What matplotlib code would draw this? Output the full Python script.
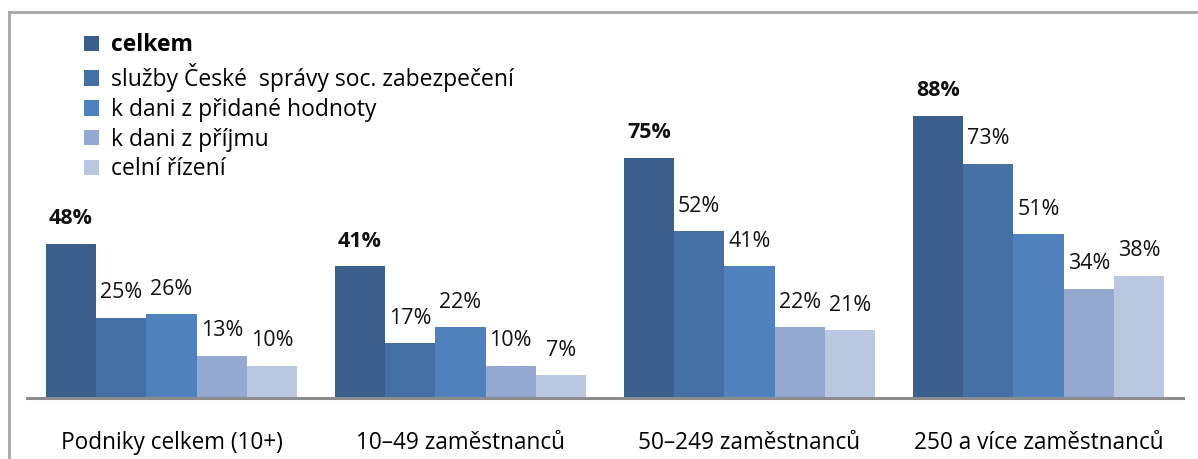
import numpy as np
import matplotlib.pyplot as plt
from matplotlib.lines import Line2D

categories = ["Podniky celkem (10+)", "10–49 zaměstnanců", "50–249 zaměstnanců", "250 a více zaměstnanců"]
series_names = ["celkem", "služby České  správy soc. zabezpečení", "k dani z přidané hodnoty",
                "k dani z příjmu", "celní řízení"]
celkem = [48, 41, 75, 88]
cssz = [25, 17, 52, 73]
dph = [26, 22, 41, 51]
prijem = [13, 10, 22, 34]
clo = [10, 7, 21, 38]
series = [celkem, cssz, dph, prijem, clo]
colors = ["#3B5E8C", "#4470A5", "#4F81BD", "#95A8D0", "#B9C7E0"]

plt.rcParams['font.family'] = ['Open Sans', 'DejaVu Sans']

W, H = 1198, 459
fig = plt.figure(figsize=(W / 100, H / 100), dpi=100)
ax = fig.add_axes([27 / W, (H - 397.5) / H, (1183 - 27) / W, 320 / H])

x = np.arange(len(categories))
width = 0.174
for i, (vals, name, col) in enumerate(zip(series, series_names, colors)):
    pos = x + (i - 2) * width
    ax.bar(pos, vals, width, color=col, label=name, zorder=2)
    for p, v in zip(pos, vals):
        ax.annotate(f"{v}%", (p, v), xytext=(0, 18), textcoords="offset points",
                    ha="center", va="center", fontsize=15.5,
                    fontweight="bold" if i == 0 else "normal", color="#111111")

ax.set_xlim(-0.5, 3.5)
ax.set_ylim(0, 100)
ax.set_yticks([])
ax.set_xticks(x)
ax.set_xticklabels(categories, fontsize=16.3)
ax.tick_params(axis="x", length=0, pad=24)
for s in ["top", "right", "left"]:
    ax.spines[s].set_visible(False)
ax.spines["bottom"].set_color("#8C8C8C")
ax.spines["bottom"].set_linewidth(2.2)
ax.spines["bottom"].set_zorder(3)

leg = ax.legend(loc="upper left", bbox_to_anchor=(73 / W, 1 - 22 / H),
                bbox_transform=fig.transFigure, frameon=False, fontsize=16.5,
                handlelength=0.65, handleheight=0.65, handletextpad=0.5,
                labelspacing=0.25, borderpad=0)
leg.get_texts()[0].set_fontweight("bold")

# chart frame (top and left edges visible)
fig.add_artist(Line2D([9 / W, 1], [1 - 12 / H, 1 - 12 / H], transform=fig.transFigure,
                      color="#A6A6A6", lw=2))
fig.add_artist(Line2D([9 / W, 9 / W], [0, 1 - 12 / H], transform=fig.transFigure,
                      color="#A6A6A6", lw=2))

fig.savefig("out.png", dpi=100)
